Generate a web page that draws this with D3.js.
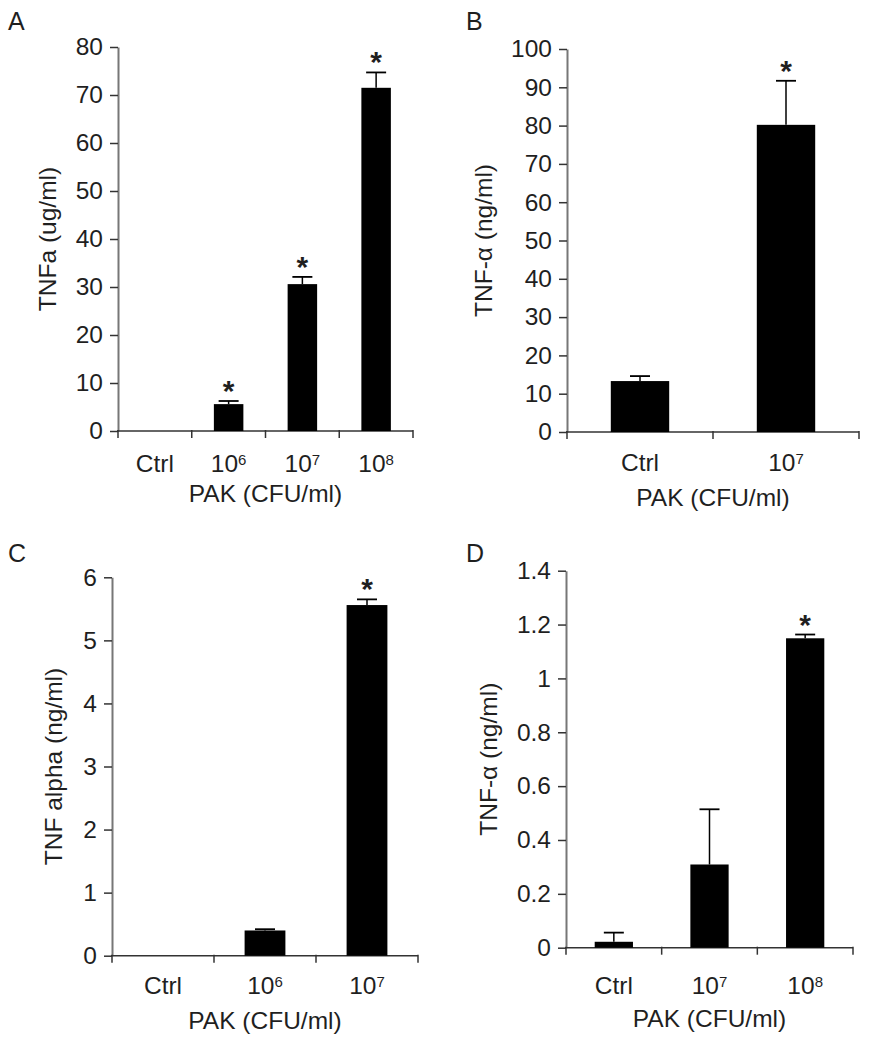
<!DOCTYPE html>
<html>
<head>
<meta charset="utf-8">
<script src="https://cdn.jsdelivr.net/npm/d3@7/dist/d3.min.js"></script>
<style>
  html, body { margin: 0; padding: 0; background: #fff; }
  svg { display: block; }
  text { font-family: "Liberation Sans", Arial, sans-serif; fill: #1f1f1f; }
</style>
</head>
<body>
<svg id="chart" width="876" height="1050"></svg>
<script>
// ---------- data ----------
const catsA = ["Ctrl", "10^6", "10^7", "10^8"];
const valuesA = [0, 5.6, 30.6, 71.5];
const errA = [0, 0.65, 1.5, 3.2];
const starsA = [false, true, true, true];
const ticksA = [0, 10, 20, 30, 40, 50, 60, 70, 80];

const catsB = ["Ctrl", "10^7"];
const valuesB = [13.3, 80.2];
const errB = [1.3, 11.5];
const starsB = [false, true];
const ticksB = [0, 10, 20, 30, 40, 50, 60, 70, 80, 90, 100];

const catsC = ["Ctrl", "10^6", "10^7"];
const valuesC = [0, 0.40, 5.56];
const errC = [0, 0.02, 0.09];
const starsC = [false, false, true];
const ticksC = [0, 1, 2, 3, 4, 5, 6];

const catsD = ["Ctrl", "10^7", "10^8"];
const valuesD = [0.022, 0.309, 1.149];
const errD = [0.034, 0.205, 0.014];
const starsD = [false, false, true];
const ticksD = [0, 0.2, 0.4, 0.6, 0.8, 1, 1.2, 1.4];

const yTitles = ["TNFa (ug/ml)", "TNF-\u03b1 (ng/ml)", "TNF alpha (ng/ml)", "TNF-\u03b1 (ng/ml)"];
const xTitle = "PAK (CFU/ml)";
const panelLabels = ["A", "B", "C", "D"];

// ---------- layout ----------
const layouts = [
  { left: 118, right: 413, top: 47,    bottom: 431,   titleX: 47,  catY: 463, xTitleY: 493,  labelX: 8,   labelY: 30 },
  { left: 567, right: 859, top: 49,    bottom: 432,   titleX: 483, catY: 462, xTitleY: 497,  labelX: 466, labelY: 30 },
  { left: 112, right: 418, top: 577.3, bottom: 955.7, titleX: 53,  catY: 985, xTitleY: 1020, labelX: 8,   labelY: 562 },
  { left: 566, right: 853, top: 570.7, bottom: 947.7, titleX: 488, catY: 985, xTitleY: 1018, labelX: 466, labelY: 562 }
];

const panels = [
  { cats: catsA, values: valuesA, err: errA, stars: starsA, ticks: ticksA },
  { cats: catsB, values: valuesB, err: errB, stars: starsB, ticks: ticksB },
  { cats: catsC, values: valuesC, err: errC, stars: starsC, ticks: ticksC },
  { cats: catsD, values: valuesD, err: errD, stars: starsD, ticks: ticksD }
];

const svg = d3.select("#chart");
const AXIS = "#777";
const TICK = "#333";
const FONT = 24.5;

panels.forEach((p, i) => {
  const L = layouts[i];
  const g = svg.append("g");

  const x = d3.scaleBand().domain(p.cats).range([L.left, L.right]).padding(0);
  const y = d3.scaleLinear().domain([0, p.ticks[p.ticks.length - 1]]).range([L.bottom, L.top]);

  // y axis
  const yAxis = d3.axisLeft(y).tickValues(p.ticks).tickFormat(d3.format("")).tickSizeInner(8).tickSizeOuter(0).tickPadding(7);
  const ya = g.append("g").attr("transform", `translate(${L.left},0)`).call(yAxis);
  ya.select(".domain").attr("stroke", AXIS).attr("stroke-width", 2);
  ya.selectAll(".tick line").attr("stroke", TICK).attr("stroke-width", 1.5);
  ya.selectAll(".tick text").style("font-size", FONT + "px").attr("fill", "#1f1f1f")
    .style("font-family", '"Liberation Sans", Arial, sans-serif');

  // x axis line
  g.append("line").attr("x1", L.left - 1).attr("x2", L.right).attr("y1", L.bottom).attr("y2", L.bottom)
    .attr("stroke", TICK).attr("stroke-width", 1.5);
  // x boundary ticks
  const bounds = p.cats.map(c => x(c)).concat([x(p.cats[p.cats.length - 1]) + x.bandwidth()]);
  g.selectAll(".xt").data(bounds).join("line")
    .attr("x1", d => d).attr("x2", d => d).attr("y1", L.bottom - 1).attr("y2", L.bottom + 7)
    .attr("stroke", TICK).attr("stroke-width", 1.5);

  const bw = x.bandwidth() * 0.4;
  const cx = c => x(c) + x.bandwidth() / 2;

  // bars
  g.selectAll(".bar").data(p.cats).join("rect")
    .attr("x", c => cx(c) - bw / 2)
    .attr("width", bw)
    .attr("y", (c, j) => y(p.values[j]))
    .attr("height", (c, j) => L.bottom - y(p.values[j]))
    .attr("fill", "#000");

  // error bars
  p.cats.forEach((c, j) => {
    if (p.err[j] <= 0) return;
    const yt = y(p.values[j] + p.err[j]);
    const yb = y(p.values[j]);
    g.append("line").attr("x1", cx(c)).attr("x2", cx(c)).attr("y1", yb).attr("y2", yt)
      .attr("stroke", "#000").attr("stroke-width", 1.5);
    g.append("line").attr("x1", cx(c) - 10).attr("x2", cx(c) + 10).attr("y1", yt).attr("y2", yt)
      .attr("stroke", "#000").attr("stroke-width", 1.8);
  });

  // stars
  p.cats.forEach((c, j) => {
    if (!p.stars[j]) return;
    const yt = y(p.values[j] + p.err[j]);
    g.append("text").attr("x", cx(c)).attr("y", yt)
      .attr("text-anchor", "middle").style("font-size", "30px").style("font-weight", "bold")
      .attr("fill", "#111").text("*");
  });

  // category labels
  p.cats.forEach(c => {
    const t = g.append("text").attr("x", cx(c)).attr("y", L.catY).attr("dy", "0.35em")
      .attr("text-anchor", "middle").style("font-size", FONT + "px");
    if (c.includes("^")) {
      const [b, e] = c.split("^");
      t.append("tspan").text(b);
      t.append("tspan").attr("dy", "-0.45em").style("font-size", "15px").text(e);
    } else {
      t.text(c);
    }
  });

  // x title
  g.append("text").attr("x", (L.left + L.right) / 2).attr("y", L.xTitleY).attr("dy", "0.35em")
    .attr("text-anchor", "middle").style("font-size", FONT + "px").text(xTitle);

  // y title
  g.append("text").attr("transform", `translate(${L.titleX},${(L.top + L.bottom) / 2}) rotate(-90)`)
    .attr("dy", "0.35em").attr("text-anchor", "middle").style("font-size", FONT + "px").text(yTitles[i]);

  // panel label
  g.append("text").attr("x", L.labelX).attr("y", L.labelY).style("font-size", "25px").attr("fill", "#222")
    .text(panelLabels[i]);
});
</script>
</body>
</html>
